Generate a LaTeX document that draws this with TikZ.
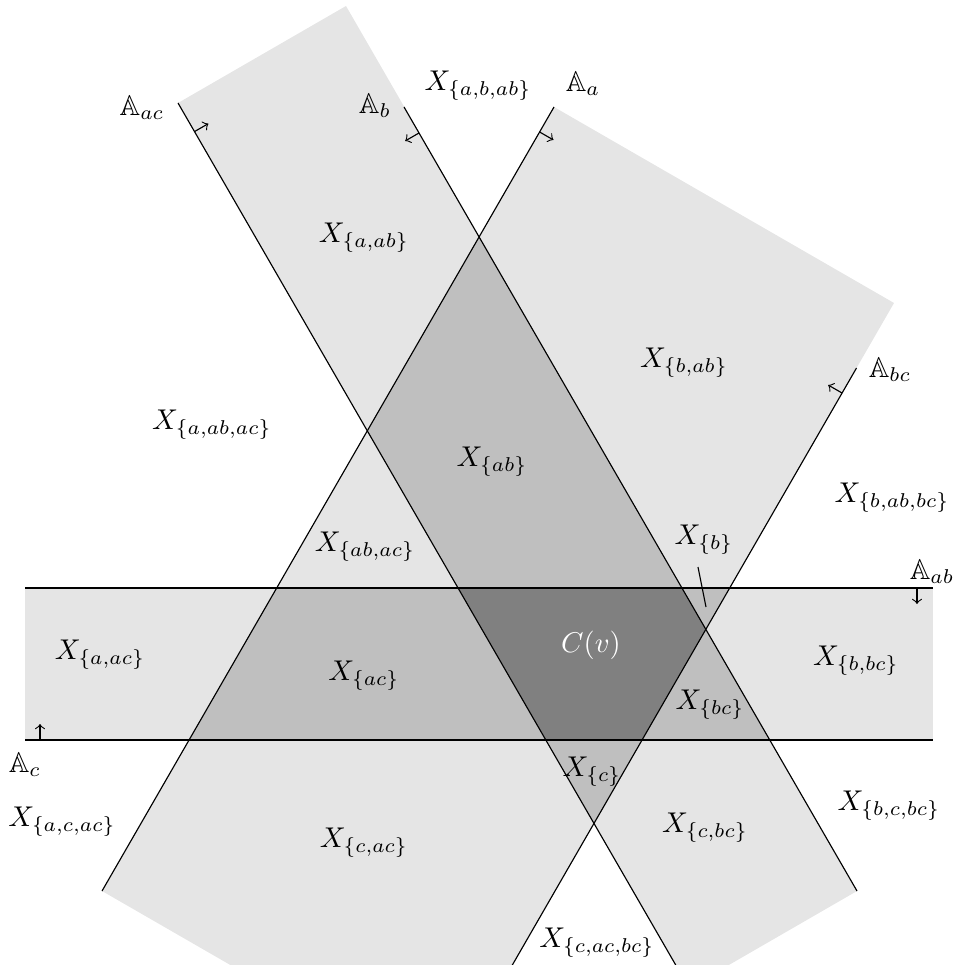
\documentclass[tikz,border=0pt]{standalone}
\usepackage{amssymb}
\begin{document}
\begin{tikzpicture}[x=0.35pt,y=-0.35pt,
  lab/.style={inner sep=0pt},
  bdline/.style={line width=0.4pt},
  dirarrow/.style={-to,line width=0.4pt}]
\useasboundingbox (0,0) rectangle (957,965);
\clip (0,0) rectangle (957,965);
% band corners
\coordinate (F1) at (178,103);
\coordinate (F2) at (346,6);
\coordinate (F3) at (857,891);
\coordinate (F4) at (689,988);
\coordinate (R1) at (554,107);
\coordinate (R2) at (894,303);
\coordinate (R3) at (442,1087);
\coordinate (R4) at (102,891);
\coordinate (H1) at (25,588);
\coordinate (H2) at (933,588);
\coordinate (H3) at (933,740);
\coordinate (H4) at (25,740);
\coordinate (Bt) at (404,107);
\coordinate (BCt) at (856.5,368);
% fills
\fill[gray!20] (F1)--(F2)--(F3)--(F4)--cycle;
\fill[gray!20] (R1)--(R2)--(R3)--(R4)--cycle;
\fill[gray!20] (H1)--(H2)--(H3)--(H4)--cycle;
\begin{scope}
  \clip (F1)--(F2)--(F3)--(F4)--cycle;
  \fill[gray!50] (R1)--(R2)--(R3)--(R4)--cycle;
  \fill[gray!50] (H1)--(H2)--(H3)--(H4)--cycle;
\end{scope}
\begin{scope}
  \clip (R1)--(R2)--(R3)--(R4)--cycle;
  \fill[gray!50] (H1)--(H2)--(H3)--(H4)--cycle;
\end{scope}
\begin{scope}
  \clip (F1)--(F2)--(F3)--(F4)--cycle;
  \clip (R1)--(R2)--(R3)--(R4)--cycle;
  \fill[gray] (H1)--(H2)--(H3)--(H4)--cycle;
\end{scope}
% boundary lines
\draw[bdline] (F1) -- (F4);
\draw[bdline] (Bt) -- (F3);
\draw[bdline] (R1) -- (R4);
\draw[bdline] (BCt) -- (R3);
\draw[bdline] (H1) -- (H2);
\draw[bdline] (H4) -- (H3);
% direction arrows
\coordinate (aacB) at (194.5,131.6); \coordinate (aacT) at (208.4,123.6);
\coordinate (abB) at (419,133);      \coordinate (abT) at (405.1,141);
\coordinate (aaB) at (539.6,132);    \coordinate (aaT) at (553.5,140);
\coordinate (abcB) at (842,393);     \coordinate (abcT) at (828.1,385);
\coordinate (acB) at (40,740);       \coordinate (acT) at (40,724);
\coordinate (aabB) at (917,588);     \coordinate (aabT) at (917,604);
\draw[dirarrow] (aacB) -- (aacT);
\draw[dirarrow] (abB) -- (abT);
\draw[dirarrow] (aaB) -- (aaT);
\draw[dirarrow] (abcB) -- (abcT);
\draw[dirarrow] (acB) -- (acT);
\draw[dirarrow] (aabB) -- (aabT);
% labels
\node[lab] (Lac) at (142,108) {$\mathbb{A}_{ac}$};
\node[lab] (Lb) at (375,106) {$\mathbb{A}_{b}$};
\node[lab] (Xabab) at (478,86) {$X_{\{a,b,ab\}}$};
\node[lab] (La) at (583,84) {$\mathbb{A}_{a}$};
\node[lab] (Lbc) at (890,370) {$\mathbb{A}_{bc}$};
\node[lab] (Xbab) at (684,363) {$X_{\{b,ab\}}$};
\node[lab] (Xaab) at (364,238) {$X_{\{a,ab\}}$};
\node[lab] (Xaabac) at (212,425) {$X_{\{a,ab,ac\}}$};
\node[lab] (Xab) at (492,462) {$X_{\{ab\}}$};
\node[lab] (Xabac) at (365,547) {$X_{\{ab,ac\}}$};
\node[lab] (Xbabbc) at (892,498) {$X_{\{b,ab,bc\}}$};
\node[lab] (Xb) at (704,540) {$X_{\{b\}}$};
\node[lab] (Lab) at (932,572) {$\mathbb{A}_{ab}$};
\node[lab] (Xaac) at (100,655) {$X_{\{a,ac\}}$};
\node[lab] (Xac) at (364,676) {$X_{\{ac\}}$};
\node[lab,text=white] (Cv) at (591,645) {$C(v)$};
\node[lab] (Xbbc) at (856,661) {$X_{\{b,bc\}}$};
\node[lab] (Xbc) at (710,705) {$X_{\{bc\}}$};
\node[lab] (Lc) at (25,765) {$\mathbb{A}_{c}$};
\node[lab] (Xacac) at (62,822) {$X_{\{a,c,ac\}}$};
\node[lab] (Xc) at (592,772) {$X_{\{c\}}$};
\node[lab] (Xcac) at (364,843) {$X_{\{c,ac\}}$};
\node[lab] (Xcbc) at (705,828) {$X_{\{c,bc\}}$};
\node[lab] (Xbcbc) at (889,806) {$X_{\{b,c,bc\}}$};
\node[lab] (Xcacbc) at (597,943) {$X_{\{c,ac,bc\}}$};
% pointer for X_{b}
\coordinate (pa) at (698,567);
\coordinate (pb) at (706,607);
\draw[bdline] (pa) -- (pb);
\end{tikzpicture}
\end{document}
